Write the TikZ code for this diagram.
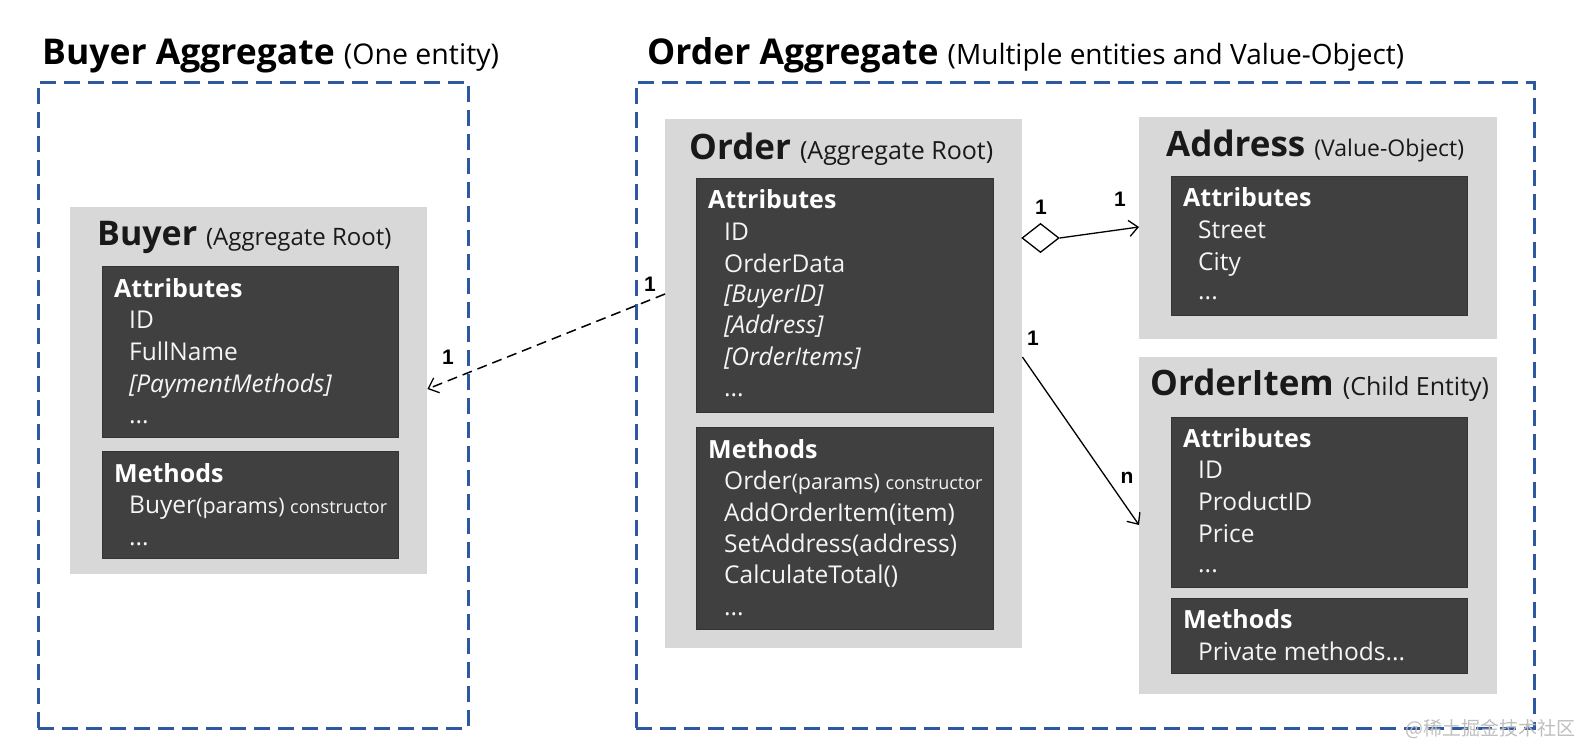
\documentclass[tikz,border=0pt]{standalone}
\usepackage{fontspec}
\setmainfont{Open Sans}
\newfontfamily\labfont{Liberation Sans}
\newfontfamily\cjkfont{Noto Sans CJK SC}
\usetikzlibrary{shapes.geometric,arrows.meta}
\definecolor{aggblue}{RGB}{46,88,160}
\definecolor{entgray}{RGB}{216,216,216}
\definecolor{darkbox}{RGB}{64,64,64}
\definecolor{darkedge}{RGB}{52,52,52}
\definecolor{itemwhite}{RGB}{245,245,245}
\definecolor{wmgray}{RGB}{190,190,190}
\newcommand\fsz[1]{\fontsize{#1bp}{#1bp}\selectfont}
\tikzset{
  agg/.style={draw=aggblue, line width=2.5bp, dash pattern=on 16bp off 8bp},
  entity/.style={fill=entgray, draw=none, anchor=north west, inner sep=0pt},
  sectbox/.style={fill=darkbox, draw=darkedge, line width=1bp, anchor=north west, inner sep=0pt},
  aggtitle/.style={anchor=base west, inner sep=0pt, text=black},
  enttitle/.style={anchor=base west, inner sep=0pt, text=black!90},
  secthead/.style={anchor=base west, inner sep=0pt, text=white, font=\fsz{25}\bfseries},
  item/.style={anchor=base west, inner sep=0pt, text=itemwhite, font=\fsz{24.5}},
  mult/.style={inner sep=0pt, text=black, font=\labfont\fsz{21}\bfseries},
  conn/.style={draw=black, line width=1.3bp, -{Straight Barb[length=9bp,width=16bp,line width=1.3bp]}},
}
\begin{document}
\begin{tikzpicture}[x=1bp,y=-1bp]
\useasboundingbox (0,0) rectangle (1582,746);
\fill[white] (0,0) rectangle (1582,746);

% ---------- aggregates ----------
\node[aggtitle] (buyaggT) at (42,65) {\fsz{35.5}\bfseries Buyer Aggregate \fsz{28.5}\mdseries(One entity)};
\node[agg, anchor=north west, minimum width=430bp, minimum height=646bp, inner sep=0pt] (buyagg) at (37,81) {};
\node[aggtitle] (ordaggT) at (647,65) {\fsz{35.5}\bfseries Order Aggregate \fsz{28}\mdseries(Multiple entities and Value-Object)};
\node[agg, anchor=north west, minimum width=898bp, minimum height=646bp, inner sep=0pt] (ordagg) at (635,81) {};

% ---------- Buyer ----------
\node[entity, minimum width=357bp, minimum height=367bp] (buyer) at (70,207) {};
\node[enttitle] (buyerT) at (97,245) {\fsz{34}\bfseries Buyer \fsz{24}\mdseries(Aggregate Root)};
\node[sectbox, minimum width=296bp, minimum height=171bp] (buyerA) at (102,266) {};
\node[secthead] (buyerAh) at (114,297) {Attributes};
\node[item] (buyerA1) at (129,328) {ID};
\node[item] (buyerA2) at (129,360) {FullName};
\node[item] (buyerA3) at (129,392) {\itshape [PaymentMethods]};
\node[item] (buyerA4) at (129,423) {...};
\node[sectbox, minimum width=296bp, minimum height=107bp] (buyerM) at (102,451) {};
\node[secthead] (buyerMh) at (114,482) {Methods};
\node[item] (buyerM1) at (129,513) {Buyer\fsz{21.5}(params) \fsz{18}constructor};
\node[item] (buyerM2) at (129,545) {...};

% ---------- Order ----------
\node[entity, minimum width=357bp, minimum height=529bp] (order) at (665,119) {};
\node[enttitle] (orderT) at (689,159) {\fsz{35}\bfseries Order \fsz{25}\mdseries(Aggregate Root)};
\node[sectbox, minimum width=297bp, minimum height=234bp] (orderA) at (696,178) {};
\node[secthead] (orderAh) at (708,208) {Attributes};
\node[item] (orderA1) at (724,240) {ID};
\node[item] (orderA2) at (724,272) {OrderData};
\node[item] (orderA3) at (724,302) {\itshape [BuyerID]};
\node[item] (orderA4) at (724,333) {\itshape [Address]};
\node[item] (orderA5) at (724,365) {\itshape [OrderItems]};
\node[item] (orderA6) at (724,396) {...};
\node[sectbox, minimum width=297bp, minimum height=202bp] (orderM) at (696,427) {};
\node[secthead] (orderMh) at (708,458) {Methods};
\node[item] (orderM1) at (724,489) {Order\fsz{21.5}(params) \fsz{18}constructor};
\node[item] (orderM2) at (724,521) {AddOrderItem(item)};
\node[item] (orderM3) at (724,552) {SetAddress(address)};
\node[item] (orderM4) at (724,583) {CalculateTotal()};
\node[item] (orderM5) at (724,615) {...};

% ---------- Address ----------
\node[entity, minimum width=358bp, minimum height=222bp] (address) at (1139,117) {};
\node[enttitle] (addressT) at (1166,156) {\fsz{35}\bfseries Address \fsz{23}\mdseries(Value-Object)};
\node[sectbox, minimum width=296bp, minimum height=139bp] (addressA) at (1171,176) {};
\node[secthead] (addressAh) at (1183,206) {Attributes};
\node[item] (addressA1) at (1198,238) {Street};
\node[item] (addressA2) at (1198,270) {City};
\node[item] (addressA3) at (1198,299) {...};

% ---------- OrderItem ----------
\node[entity, minimum width=358bp, minimum height=337bp] (item) at (1139,357) {};
\node[enttitle] (itemT) at (1150,395) {\fsz{35}\bfseries OrderItem \fsz{25}\mdseries(Child Entity)};
\node[sectbox, minimum width=296bp, minimum height=170bp] (itemA) at (1171,417) {};
\node[secthead] (itemAh) at (1183,447) {Attributes};
\node[item] (itemA1) at (1198,478) {ID};
\node[item] (itemA2) at (1198,510) {ProductID};
\node[item] (itemA3) at (1198,542) {Price};
\node[item] (itemA4) at (1198,572) {...};
\node[sectbox, minimum width=296bp, minimum height=75bp] (itemM) at (1171,598) {};
\node[secthead] (itemMh) at (1183,628) {Methods};
\node[item] (itemM1) at (1198,660) {Private methods...};

% ---------- connectors ----------
\coordinate (y294) at (0,294);
\coordinate (y389) at (0,389);
\coordinate (y227) at (0,227);
\coordinate (y357) at (0,357);
\coordinate (y525) at (0,525);
\draw[conn, line width=1.5bp, dash pattern=on 10bp off 6bp] (order.west |- y294) -- (buyer.east |- y389);
\node[draw=black, fill=white, line width=1.3bp, shape=diamond, inner sep=0pt, minimum width=37bp, minimum height=29bp] (dia) at (1040.5,238) {};
\draw[conn] (dia.east) -- (address.west |- y227);
\draw[conn] (order.east |- y357) -- (item.west |- y525);

\node[mult] (m1) at (448,357) {1};
\node[mult] (m2) at (650,284) {1};
\node[mult] (m3) at (1041,207) {1};
\node[mult] (m4) at (1120,199) {1};
\node[mult] (m5) at (1033,338) {1};
\node[mult] (m6) at (1127,478) {n};

% watermark
\node[anchor=base east, inner sep=0pt, text=wmgray] (wm) at (1576,735) {\cjkfont\fsz{19}@稀土掘金技术社区};
\end{tikzpicture}
\end{document}
